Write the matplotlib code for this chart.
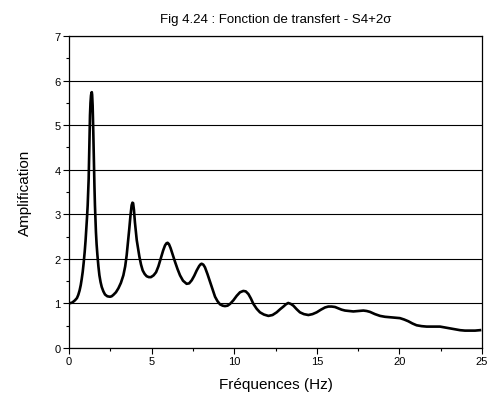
import matplotlib
matplotlib.use('Agg')
import matplotlib.pyplot as plt
from matplotlib.ticker import MultipleLocator

plt.rcParams['font.family'] = ['Liberation Sans', 'DejaVu Sans']

# transfer function read at irregular frequencies (Hz)
freq = [0.0, 0.20, 0.36, 0.48, 0.56, 0.64, 0.71, 0.77, 0.83, 0.89, 0.95, 1.00, 1.05,
        1.09, 1.13, 1.16, 1.19, 1.21, 1.23, 1.25, 1.27, 1.30, 1.33, 1.36, 1.38,
        1.40, 1.43, 1.45, 1.47, 1.49, 1.51, 1.54, 1.57, 1.60, 1.63, 1.67, 1.72,
        1.78, 1.84, 1.91, 1.98, 2.08, 2.18, 2.32, 2.48, 2.58, 2.68, 2.84, 2.99,
        3.14, 3.29, 3.40, 3.49, 3.57, 3.65, 3.72, 3.79, 3.84, 3.88, 3.93, 3.99,
        4.10, 4.26, 4.36, 4.46, 4.58, 4.70, 4.83, 4.96, 5.12, 5.27, 5.41, 5.55,
        5.70, 5.81, 5.90, 5.97, 6.05, 6.15, 6.28, 6.42, 6.57, 6.72, 6.90, 7.12,
        7.27, 7.43, 7.58, 7.73, 7.88, 7.97, 8.03, 8.13, 8.23, 8.38, 8.54, 8.69,
        8.84, 8.99, 9.14, 9.30, 9.44, 9.60, 9.75, 9.95, 10.15, 10.35, 10.55,
        10.70, 10.86, 11.01, 11.16, 11.36, 11.56, 11.80, 12.07, 12.32, 12.57,
        12.78, 12.98, 13.13, 13.27, 13.42, 13.58, 13.78, 13.98, 14.22, 14.49,
        14.74, 14.99, 15.25, 15.50, 15.70, 15.90, 16.10, 16.30, 16.50, 16.71,
        16.95, 17.21, 17.50, 17.82, 18.02, 18.22, 18.52, 18.83, 19.13, 19.43,
        19.73, 20.03, 20.28, 20.54, 20.79, 21.04, 21.35, 21.65, 22.05, 22.46,
        22.76, 23.07, 23.37, 23.67, 23.97, 24.28, 24.58, 24.88]
ampl = [1.00, 1.02, 1.07, 1.12, 1.19, 1.29, 1.41, 1.55, 1.71, 1.92, 2.16, 2.40, 2.68,
        2.93, 3.20, 3.48, 3.80, 4.15, 4.54, 4.90, 5.22, 5.50, 5.66, 5.73, 5.74,
        5.68, 5.44, 5.16, 4.84, 4.48, 4.10, 3.62, 3.20, 2.88, 2.60, 2.33, 2.08,
        1.83, 1.63, 1.48, 1.37, 1.27, 1.20, 1.16, 1.15, 1.16, 1.19, 1.25, 1.34,
        1.46, 1.63, 1.83, 2.08, 2.37, 2.68, 2.97, 3.20, 3.26, 3.25, 3.10, 2.82,
        2.42, 2.05, 1.87, 1.74, 1.66, 1.61, 1.59, 1.59, 1.63, 1.70, 1.83, 2.00,
        2.19, 2.30, 2.35, 2.36, 2.33, 2.24, 2.09, 1.93, 1.77, 1.63, 1.51, 1.44,
        1.45, 1.52, 1.62, 1.74, 1.84, 1.88, 1.89, 1.87, 1.81, 1.66, 1.48, 1.31,
        1.15, 1.05, 0.98, 0.95, 0.94, 0.95, 0.99, 1.07, 1.17, 1.25, 1.28,
        1.27, 1.21, 1.11, 0.99, 0.88, 0.80, 0.75, 0.72, 0.74, 0.80,
        0.87, 0.93, 0.98, 1.01, 0.99, 0.95, 0.87, 0.80, 0.76, 0.74,
        0.76, 0.80, 0.86, 0.91, 0.93, 0.93, 0.92, 0.89, 0.86, 0.84,
        0.83, 0.82, 0.83, 0.84, 0.83, 0.81, 0.76, 0.72, 0.70, 0.69,
        0.68, 0.67, 0.64, 0.60, 0.55, 0.51, 0.49, 0.48, 0.48, 0.48,
        0.46, 0.44, 0.42, 0.40, 0.39, 0.39, 0.39, 0.40]

fig = plt.figure(figsize=(4.94, 4.06), dpi=100)
ax = fig.add_axes([0.1397, 0.1404, 0.8360, 0.7685])

ax.plot(freq, ampl, color='black', lw=1.9, solid_joinstyle='round', zorder=3)

ax.set_xlim(0, 25)
ax.set_ylim(0, 7)
ax.xaxis.set_major_locator(MultipleLocator(5))
ax.xaxis.set_minor_locator(MultipleLocator(2.5))
ax.yaxis.set_major_locator(MultipleLocator(1))
ax.yaxis.set_minor_locator(MultipleLocator(0.5))
ax.tick_params(which='major', direction='out', length=4, width=0.8, labelsize=8, pad=2)
ax.tick_params(which='minor', direction='out', length=2.5, width=0.8)
ax.grid(axis='y', which='major', color='black', lw=0.8)

for s in ax.spines.values():
    s.set_linewidth(0.9)

ax.set_xlabel('Fréquences (Hz)', fontsize=11, labelpad=8)
ax.set_ylabel('Amplification', fontsize=11, labelpad=16)
ax.set_title('Fig 4.24 : Fonction de transfert - S4+2σ', fontsize=9.5, pad=10)

fig.savefig('out.png', dpi=100)
